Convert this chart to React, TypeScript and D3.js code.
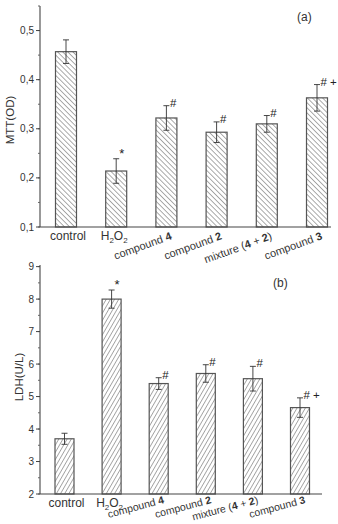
import React, { useEffect, useRef } from "react";
import * as d3 from "d3";

// categories shared by both panels
const categories = ["control", "H2O2", "compound 4", "compound 2", "mixture (4 + 2)", "compound 3"];

// panel (a) MTT
const mttValues = [0.457, 0.214, 0.322, 0.293, 0.31, 0.363];
const mttErrors = [0.024, 0.025, 0.025, 0.021, 0.017, 0.027];
const mttTicks = [0.1, 0.2, 0.3, 0.4, 0.5];
const mttMarks = ["", "*", "#", "#", "#", "# +"];

// panel (b) LDH
const ldhValues = [3.7, 8.0, 5.4, 5.71, 5.55, 4.66];
const ldhErrors = [0.17, 0.28, 0.18, 0.27, 0.38, 0.3];
const ldhTicks = [2, 3, 4, 5, 6, 7, 8, 9];
const ldhMarks = ["", "*", "#", "#", "#", "# +"];

const FONT = "'Liberation Sans', Arial, sans-serif";

type Panel = {
  values: number[];
  errors: number[];
  ticks: number[];
  marks: string[];
  domain: [number, number];
  minorStep: number;
  yRange: [number, number];
  xRange: [number, number];
  axisEnd: number;
  barW: number;
  fmt: (v: number) => string;
  ylabel: string;
  ylabelX: number;
  ylabelY: number;
  tag: string;
  tagX: number;
  tagY: number;
  pattern: string;
  hatchDir: number;
  labelDy: number;
  labelAngle: number;
  labelSize: number;
};

function drawPanel(svg: d3.Selection<SVGSVGElement, unknown, null, undefined>, p: Panel) {
  const g = svg.append("g");
  const y = d3.scaleLinear().domain(p.domain).range(p.yRange);
  const x = d3.scalePoint<string>().domain(categories).range(p.xRange);
  const x0 = 40;
  const y0 = y(p.domain[0]);

  // hatch pattern
  const pat = svg
    .select("defs")
    .append("pattern")
    .attr("id", p.pattern)
    .attr("patternUnits", "userSpaceOnUse")
    .attr("width", 3.6)
    .attr("height", 4)
    .attr("patternTransform", `rotate(${p.hatchDir})`);
  pat.append("rect").attr("width", 3.6).attr("height", 4).attr("fill", "#fff");
  pat.append("line").attr("x1", 0).attr("y1", 0).attr("x2", 0).attr("y2", 4).attr("stroke", "#3a3a3a").attr("stroke-width", 0.9);

  // bars
  g.selectAll("rect.bar")
    .data(p.values)
    .enter()
    .append("rect")
    .attr("class", "bar")
    .attr("x", (d, i) => (x(categories[i]) as number) - p.barW / 2)
    .attr("y", (d) => y(d))
    .attr("width", p.barW)
    .attr("height", (d) => y0 - y(d))
    .attr("fill", `url(#${p.pattern})`)
    .attr("stroke", "#555")
    .attr("stroke-width", 1.2);

  // error bars
  p.values.forEach((v, i) => {
    const cx = x(categories[i]) as number;
    const e = p.errors[i];
    g.append("line")
      .attr("x1", cx).attr("x2", cx)
      .attr("y1", y(v - e)).attr("y2", y(v + e))
      .attr("stroke", "#333").attr("stroke-width", 0.9);
    [v + e, v - e].forEach((t) => {
      g.append("line")
        .attr("x1", cx - 3).attr("x2", cx + 3)
        .attr("y1", y(t)).attr("y2", y(t))
        .attr("stroke", "#333").attr("stroke-width", 0.9);
    });
    const m = p.marks[i];
    if (m === "*") {
      g.append("text")
        .attr("x", cx + 3).attr("y", y(v + e) - 1)
        .attr("font-family", FONT).attr("font-size", 13)
        .attr("fill", "#222").text("*");
    } else if (m) {
      g.append("text")
        .attr("x", cx + 3.5).attr("y", y(v + e) + 1)
        .attr("font-family", FONT).attr("font-size", 11.5)
        .attr("fill", "#222")
        .text(m);
    }
  });

  // axes
  g.append("line").attr("x1", x0).attr("x2", x0).attr("y1", y(p.domain[1])).attr("y2", y0).attr("stroke", "#444").attr("stroke-width", 1.1);
  g.append("line").attr("x1", x0).attr("x2", p.axisEnd).attr("y1", y0).attr("y2", y0).attr("stroke", "#444").attr("stroke-width", 1.1);

  const minor = d3.range(p.domain[0], p.domain[1] + 1e-9, p.minorStep);
  g.selectAll("line.minor")
    .data(minor)
    .enter()
    .append("line")
    .attr("x1", x0 - 2).attr("x2", x0)
    .attr("y1", (d) => y(d)).attr("y2", (d) => y(d))
    .attr("stroke", "#666");
  g.selectAll("line.major")
    .data(p.ticks)
    .enter()
    .append("line")
    .attr("x1", x0 - 4).attr("x2", x0)
    .attr("y1", (d) => y(d)).attr("y2", (d) => y(d))
    .attr("stroke", "#444");
  g.selectAll("text.tick")
    .data(p.ticks)
    .enter()
    .append("text")
    .attr("x", x0 - 6)
    .attr("y", (d) => y(d) + 3.5)
    .attr("text-anchor", "end")
    .attr("font-family", FONT).attr("font-size", 10)
    .attr("fill", "#333")
    .text((d) => p.fmt(d));

  g.append("text")
    .attr("transform", `translate(${p.ylabelX},${p.ylabelY}) rotate(-90)`)
    .attr("text-anchor", "middle")
    .attr("font-family", FONT).attr("font-size", 11.5)
    .attr("fill", "#333")
    .text(p.ylabel);

  g.append("text")
    .attr("x", p.tagX).attr("y", p.tagY)
    .attr("font-family", FONT).attr("font-size", 12)
    .attr("fill", "#333")
    .text(p.tag);

  // category labels
  const ly = y0 + 13;
  categories.forEach((c, i) => {
    const cx = x(c) as number;
    if (i === 0) {
      g.append("text").attr("x", cx + 2).attr("y", ly)
        .attr("text-anchor", "middle").attr("font-family", FONT).attr("font-size", 12)
        .attr("fill", "#333").text(c);
    } else if (i === 1) {
      const t = g.append("text").attr("x", cx - 2).attr("y", ly)
        .attr("text-anchor", "middle").attr("font-family", FONT).attr("font-size", 12)
        .attr("fill", "#333");
      t.append("tspan").text("H");
      t.append("tspan").attr("font-size", 8).attr("dy", 3).text("2");
      t.append("tspan").attr("dy", -3).text("O");
      t.append("tspan").attr("font-size", 8).attr("dy", 3).text("2");
    } else {
      const t = g.append("text")
        .attr("transform", `translate(${cx + 6},${y0 + p.labelDy}) rotate(${p.labelAngle})`)
        .attr("text-anchor", "end").attr("font-family", FONT).attr("font-size", p.labelSize)
        .attr("fill", "#333")
        .attr("xml:space", "preserve");
      if (c.startsWith("mixture")) {
        t.append("tspan").text("mixture (");
        t.append("tspan").attr("font-weight", "bold").text("4");
        t.append("tspan").text(" + ");
        t.append("tspan").attr("font-weight", "bold").text("2");
        t.append("tspan").text(")");
      } else {
        const k = c.lastIndexOf(" ");
        t.append("tspan").text(c.slice(0, k + 1));
        t.append("tspan").attr("font-weight", "bold").text(c.slice(k + 1));
      }
    }
  });
}

const App = () => {
  const svgRef = useRef<SVGSVGElement>(null);

  useEffect(() => {
    const svg = d3.select(svgRef.current as SVGSVGElement);
    svg.selectAll("*").remove();
    svg.append("defs");

    drawPanel(svg, {
      values: mttValues,
      errors: mttErrors,
      ticks: mttTicks,
      marks: mttMarks,
      domain: [0.1, 0.55],
      minorStep: 0.05,
      yRange: [227, 6],
      xRange: [66, 317],
      axisEnd: 331,
      barW: 21,
      fmt: (v) => d3.format(".1f")(v).replace(".", ","),
      ylabel: "MTT(OD)",
      ylabelX: 14,
      ylabelY: 120,
      tag: "(a)",
      tagX: 297,
      tagY: 21,
      pattern: "hatchA",
      hatchDir: -45,
      labelDy: 12,
      labelAngle: -20,
      labelSize: 11,
    });

    drawPanel(svg, {
      values: ldhValues,
      errors: ldhErrors,
      ticks: ldhTicks,
      marks: ldhMarks,
      domain: [2, 9.05],
      minorStep: 0.5,
      yRange: [494, 265],
      xRange: [64.5, 300],
      axisEnd: 322,
      barW: 19,
      fmt: (v) => String(v),
      ylabel: "LDH(U/L)",
      ylabelX: 23,
      ylabelY: 377,
      tag: "(b)",
      tagX: 273,
      tagY: 287,
      pattern: "hatchB",
      hatchDir: 30,
      labelDy: 9,
      labelAngle: -15,
      labelSize: 10.5,
    });
  }, []);

  return (
    <svg
      ref={svgRef}
      width={338}
      height={524}
      style={{ position: "absolute", left: 0, top: 0, background: "#fff" }}
    />
  );
};

export default App;
